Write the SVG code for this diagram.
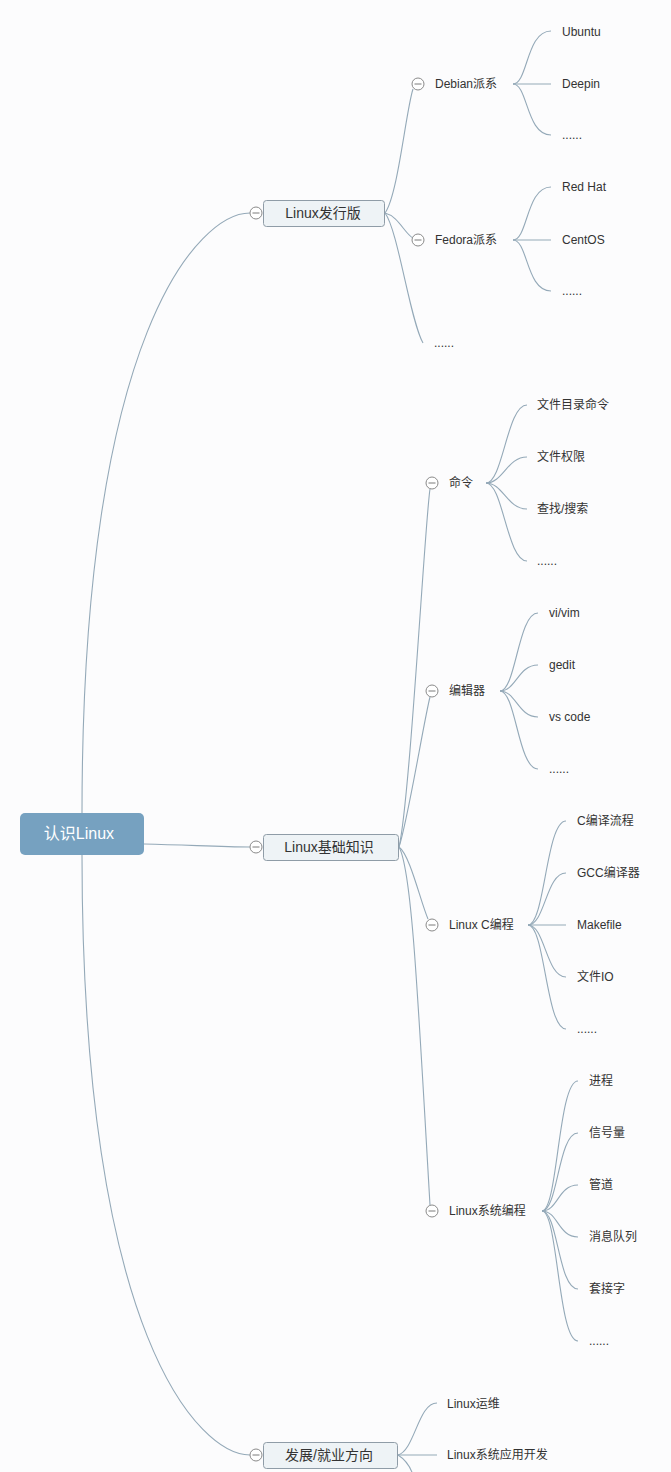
<svg xmlns="http://www.w3.org/2000/svg" width="671" height="1472" viewBox="0 0 671 1472">
<style>
.bg{fill:#fcfcfd}
.ln{fill:none;stroke:#94a9b8;stroke-width:1.1}
.root{fill:#76a1c0}
.rt{font-family:"Liberation Sans","Noto Sans CJK SC",sans-serif;font-size:16px;fill:#ffffff;text-anchor:middle}
.l1{fill:#eef3f6;stroke:#8f9ca7;stroke-width:1}
.t1{font-family:"Liberation Sans","Noto Sans CJK SC",sans-serif;font-size:14px;fill:#333333;text-anchor:middle}
.t2{font-family:"Liberation Sans","Noto Sans CJK SC",sans-serif;font-size:12px;fill:#333333}
.cc{fill:#ffffff;stroke:#8a8a8a;stroke-width:1}
.cm{stroke:#7a7a7a;stroke-width:1}
</style>
<defs>
<g id="col"><circle class="cc" cx="0" cy="0" r="6"/><line class="cm" x1="-3.5" y1="0" x2="3.5" y2="0"/></g>
</defs>
<rect class="bg" x="0" y="0" width="671" height="1472"/>
<g id="connectors">
<path class="ln" d="M82,813 C82,330 200,213 250,213"/>
<path class="ln" d="M82,855 C82,1338 200,1455 250,1455"/>
<path class="ln" d="M144,844 C190,845 220,847 250,847"/>
<path class="ln" d="M385,213 C398,195 406,110 413,89"/>
<path class="ln" d="M385,213 C398,216 405,234 413,238"/>
<path class="ln" d="M385,213 C398,230 410,320 423,343"/>
<path class="ln" d="M513,84 C528,84 526,31 551,31"/>
<path class="ln" d="M513,84 L551,84"/>
<path class="ln" d="M513,84 C528,84 526,135 551,135"/>
<path class="ln" d="M513,240 C528,240 526,187 551,187"/>
<path class="ln" d="M513,240 L551,240"/>
<path class="ln" d="M513,240 C528,240 526,291 551,291"/>
<path class="ln" d="M399,847 C410,800 425,520 430,489"/>
<path class="ln" d="M399,847 C408,820 424,720 430,697"/>
<path class="ln" d="M399,847 C410,855 420,900 428,919"/>
<path class="ln" d="M399,847 C412,870 418,1000 430,1205"/>
<path class="ln" d="M486,483 C503,483 507,405 527,405"/>
<path class="ln" d="M486,483 C503,483 507,457 527,457"/>
<path class="ln" d="M486,483 C503,483 507,509 527,509"/>
<path class="ln" d="M486,483 C503,483 507,561 527,561"/>
<path class="ln" d="M500,691 C516,691 518,613 538,613"/>
<path class="ln" d="M500,691 C516,691 518,665 538,665"/>
<path class="ln" d="M500,691 C516,691 518,717 538,717"/>
<path class="ln" d="M500,691 C516,691 518,769 538,769"/>
<path class="ln" d="M528,925 C545,925 546,821 566,821"/>
<path class="ln" d="M528,925 C545,925 546,873 566,873"/>
<path class="ln" d="M528,925 L566,925"/>
<path class="ln" d="M528,925 C545,925 546,977 566,977"/>
<path class="ln" d="M528,925 C545,925 546,1029 566,1029"/>
<path class="ln" d="M542,1211 C558,1211 558,1081 578,1081"/>
<path class="ln" d="M542,1211 C558,1211 558,1133 578,1133"/>
<path class="ln" d="M542,1211 C558,1211 558,1185 578,1185"/>
<path class="ln" d="M542,1211 C558,1211 558,1237 578,1237"/>
<path class="ln" d="M542,1211 C558,1211 558,1289 578,1289"/>
<path class="ln" d="M542,1211 C558,1211 558,1341 578,1341"/>
<path class="ln" d="M398,1455 C415,1450 418,1403 437,1403"/>
<path class="ln" d="M398,1455 L437,1455"/>
<path class="ln" d="M398,1455 C406,1460 410,1466 413,1475"/>
</g>
<g id="n-root"><rect class="root" x="20" y="813" width="124" height="42" rx="5"/><text class="rt" x="79" y="839">认识Linux</text></g>
<g id="n-dist"><rect class="l1" x="263.5" y="200.5" width="121" height="26" rx="3"/><text class="t1" x="323" y="218">Linux发行版</text><use href="#col" x="256" y="213"/></g>
<g id="n-basic"><rect class="l1" x="263.5" y="834.5" width="135" height="26" rx="3"/><text class="t1" x="329" y="852">Linux基础知识</text><use href="#col" x="256" y="847"/></g>
<g id="n-career"><rect class="l1" x="263.5" y="1442.5" width="134" height="26" rx="3"/><text class="t1" x="329" y="1460">发展/就业方向</text><use href="#col" x="256" y="1455"/></g>
<g id="n-debian"><use href="#col" x="418" y="84"/><text class="t2" x="435" y="88">Debian派系</text></g>
<g id="n-fedora"><use href="#col" x="418" y="240"/><text class="t2" x="435" y="244">Fedora派系</text></g>
<g id="n-dist-more"><text class="t2" x="434" y="347">......</text></g>
<g id="n-ubuntu"><text class="t2" x="562" y="36">Ubuntu</text></g>
<g id="n-deepin"><text class="t2" x="562" y="88">Deepin</text></g>
<g id="n-deb-more"><text class="t2" x="562" y="139">......</text></g>
<g id="n-redhat"><text class="t2" x="562" y="191">Red Hat</text></g>
<g id="n-centos"><text class="t2" x="562" y="244">CentOS</text></g>
<g id="n-fed-more"><text class="t2" x="562" y="295">......</text></g>
<g id="n-cmd"><use href="#col" x="432" y="483"/><text class="t2" x="449" y="487">命令</text></g>
<g id="n-cmd1"><text class="t2" x="537" y="409">文件目录命令</text></g>
<g id="n-cmd2"><text class="t2" x="537" y="461">文件权限</text></g>
<g id="n-cmd3"><text class="t2" x="537" y="513">查找/搜索</text></g>
<g id="n-cmd4"><text class="t2" x="537" y="565">......</text></g>
<g id="n-editor"><use href="#col" x="432" y="691"/><text class="t2" x="449" y="695">编辑器</text></g>
<g id="n-ed1"><text class="t2" x="549" y="617">vi/vim</text></g>
<g id="n-ed2"><text class="t2" x="549" y="669">gedit</text></g>
<g id="n-ed3"><text class="t2" x="549" y="721">vs code</text></g>
<g id="n-ed4"><text class="t2" x="549" y="773">......</text></g>
<g id="n-c"><use href="#col" x="432" y="925"/><text class="t2" x="449" y="929">Linux C编程</text></g>
<g id="n-c1"><text class="t2" x="577" y="825">C编译流程</text></g>
<g id="n-c2"><text class="t2" x="577" y="877">GCC编译器</text></g>
<g id="n-c3"><text class="t2" x="577" y="929">Makefile</text></g>
<g id="n-c4"><text class="t2" x="577" y="981">文件IO</text></g>
<g id="n-c5"><text class="t2" x="577" y="1033">......</text></g>
<g id="n-sys"><use href="#col" x="432" y="1211"/><text class="t2" x="449" y="1215">Linux系统编程</text></g>
<g id="n-s1"><text class="t2" x="589" y="1085">进程</text></g>
<g id="n-s2"><text class="t2" x="589" y="1137">信号量</text></g>
<g id="n-s3"><text class="t2" x="589" y="1189">管道</text></g>
<g id="n-s4"><text class="t2" x="589" y="1241">消息队列</text></g>
<g id="n-s5"><text class="t2" x="589" y="1293">套接字</text></g>
<g id="n-s6"><text class="t2" x="589" y="1345">......</text></g>
<g id="n-ops"><text class="t2" x="447" y="1408">Linux运维</text></g>
<g id="n-appdev"><text class="t2" x="447" y="1459">Linux系统应用开发</text></g>
</svg>
